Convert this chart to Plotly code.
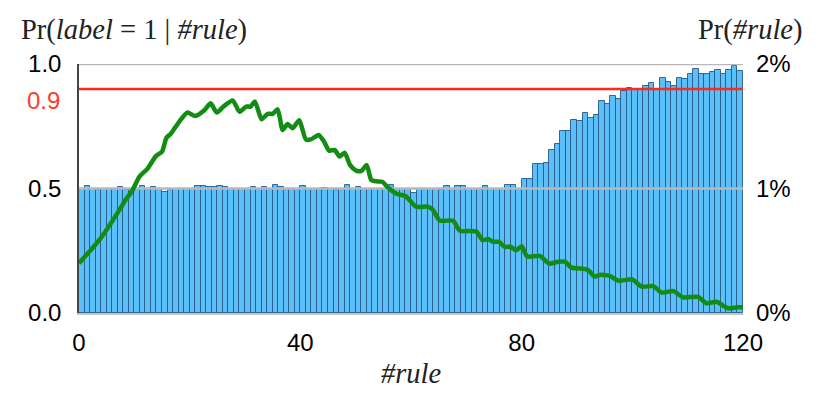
import plotly.graph_objects as go

# Pr(#rule) per bin, in percent (bins 0..119)
rule_pct = [
    1.00, 1.02, 1.00, 0.985, 1.00, 1.00, 1.00, 1.015, 0.99, 0.99,
    1.00, 1.02, 1.00, 1.015, 1.00, 0.975, 0.985, 1.00, 1.00, 1.00,
    0.995, 1.02, 1.02, 1.01, 1.01, 1.02, 1.01, 1.00, 1.00, 0.995,
    1.00, 1.01, 1.00, 1.01, 1.00, 1.025, 1.01, 1.00, 1.00, 1.00,
    1.02, 1.00, 1.00, 1.00, 1.005, 1.00, 0.99, 1.00, 1.025, 1.00,
    1.015, 1.00, 1.00, 1.00, 1.00, 1.00, 1.03, 1.00, 1.00, 1.00,
    0.96, 1.00, 1.00, 1.00, 1.00, 0.985, 1.02, 1.00, 1.02, 1.02,
    1.00, 0.995, 1.00, 1.02, 1.00, 1.00, 1.00, 1.025, 1.025, 1.00,
    1.08, 1.08, 1.197, 1.20, 1.205, 1.31, 1.357, 1.46, 1.46, 1.55,
    1.54, 1.61, 1.57, 1.59, 1.70, 1.68, 1.74, 1.72, 1.78, 1.81,
    1.80, 1.80, 1.82, 1.845, 1.80, 1.885, 1.853, 1.826, 1.885, 1.877,
    1.92, 1.96, 1.92, 1.92, 1.933, 1.95, 1.92, 1.95, 1.98, 1.94,
]
rule_bins = [i + 0.5 for i in range(len(rule_pct))]

# Pr(label = 1 | #rule)
label_x = [
    0, 3.9, 7.2, 8.4, 9.6, 10.9, 12.4, 13.9, 15.0, 15.8,
    16.6, 18.1, 19.6, 21.0, 22.6, 23.8, 24.9, 26.1, 27.8, 29.0,
    30.2, 31.0, 31.8, 33.0, 34.1, 35.0, 35.9, 36.8, 37.7, 38.6,
    39.8, 41.0, 41.9, 43.3, 44.3, 45.2, 46.2, 47.1, 48.0, 49.0,
    50.1, 51.0, 52.0, 52.8, 53.7, 54.8, 55.8, 57.3, 59.1, 60.9,
    63.0, 63.9, 65.2, 67.6, 68.8, 71.8, 72.9, 73.9, 74.8, 75.9,
    76.9, 78.0, 79.0, 80.0, 81.0, 83.3, 85.0, 86.6, 87.8, 89.0,
    90.5, 92.0, 93.2, 94.1, 95.9, 97.4, 98.9, 100.0, 101.7, 103.8,
    105.3, 107.4, 109.2, 111.9, 113.4, 115.2, 117.3, 118.9, 120.0,
]
label_p = [
    0.20, 0.30, 0.41, 0.454, 0.49, 0.547, 0.58, 0.63, 0.648, 0.704,
    0.72, 0.768, 0.805, 0.791, 0.813, 0.842, 0.805, 0.829, 0.853, 0.808,
    0.829, 0.829, 0.849, 0.778, 0.80, 0.80, 0.818, 0.735, 0.759, 0.742,
    0.774, 0.697, 0.697, 0.715, 0.688, 0.652, 0.655, 0.628, 0.644, 0.594,
    0.572, 0.57, 0.594, 0.535, 0.529, 0.527, 0.505, 0.48, 0.468, 0.427,
    0.427, 0.416, 0.371, 0.371, 0.331, 0.327, 0.293, 0.297, 0.286, 0.286,
    0.266, 0.266, 0.252, 0.268, 0.227, 0.229, 0.198, 0.206, 0.206, 0.182,
    0.179, 0.173, 0.146, 0.153, 0.149, 0.13, 0.133, 0.135, 0.106, 0.108,
    0.082, 0.088, 0.063, 0.065, 0.039, 0.045, 0.019, 0.023, 0.023,
]
assert len(label_x) == len(label_p)

x_span = [0, 120]
threshold = 0.9
ref_levels = [0.5, 1.0]

x_ticks = [0, 40, 80, 120]
left_ticks = [0, 0.5, 1.0]
left_text = ["0.0", "0.5", "1.0"]
right_ticks = [0, 1, 2]
right_text = ["0%", "1%", "2%"]

SANS = "Liberation Sans"
SERIF = "Liberation Serif"

fig = go.Figure()

# bars on primary axis (drawn underneath the overlay axis)
fig.add_trace(go.Bar(
    x=rule_bins, y=rule_pct, width=1,
    marker=dict(color="#5bbff9", line=dict(color="rgba(40,90,135,0.9)", width=1)),
    yaxis="y", showlegend=False, hoverinfo="skip",
))

for lvl in ref_levels:
    fig.add_trace(go.Scatter(
        x=x_span, y=[lvl, lvl], mode="lines", yaxis="y2",
        line=dict(color="#b8b8b8", width=2.5), showlegend=False, hoverinfo="skip",
    ))

fig.add_trace(go.Scatter(
    x=x_span, y=[threshold, threshold], mode="lines", yaxis="y2",
    line=dict(color="#ff2a1a", width=2.5), showlegend=False, hoverinfo="skip",
))

fig.add_trace(go.Scatter(
    x=label_x, y=label_p, mode="lines", yaxis="y2",
    line=dict(color="#128c12", width=4.5, shape="spline", smoothing=0.6),
    showlegend=False,
))

# page body has an 8px margin, so the figure is sized 8px smaller
fig.update_layout(
    width=822, height=391,
    margin=dict(l=71, r=87, t=56, b=86),
    paper_bgcolor="white", plot_bgcolor="white",
    bargap=0,
    xaxis=dict(
        range=x_span, tickvals=x_ticks, showgrid=False, zeroline=False,
        showline=True, linecolor="#c4c4c4", linewidth=2,
        ticks="", ticklabelstandoff=7,
        tickfont=dict(family=SANS, size=24, color="black"),
    ),
    yaxis=dict(
        range=[0, 2], side="right", tickvals=right_ticks, ticktext=right_text,
        showgrid=False, zeroline=False, showline=False, ticks="",
        ticklabelstandoff=12,
        tickfont=dict(family=SANS, size=24, color="black"),
    ),
    yaxis2=dict(
        range=[0, 1], overlaying="y", side="left",
        tickvals=left_ticks, ticktext=left_text,
        showgrid=False, zeroline=False,
        showline=True, linecolor="#444444", linewidth=1.5,
        ticks="", ticklabelstandoff=11,
        tickfont=dict(family=SANS, size=24, color="black"),
    ),
    annotations=[
        dict(text="Pr(<i>label</i> = 1 | <i>#rule</i>)", xref="paper", yref="paper",
             x=-0.09, y=1.135, xanchor="left", yanchor="middle", showarrow=False,
             font=dict(family=SERIF, size=28.5, color="#222")),
        dict(text="Pr(<i>#rule</i>)", xref="paper", yref="paper",
             x=1.093, y=1.135, xanchor="right", yanchor="middle", showarrow=False,
             font=dict(family=SERIF, size=28.5, color="#222")),
        dict(text="0.9", xref="paper", yref="y2", x=-0.025, y=threshold,
             xanchor="right", yanchor="middle", yshift=-12, showarrow=False,
             font=dict(family=SANS, size=24, color="#ff3b2f")),
        dict(text="<i>#rule</i>", xref="paper", yref="paper",
             x=0.5, y=-0.243, xanchor="center", yanchor="middle", showarrow=False,
             font=dict(family=SERIF, size=28.5, color="#222")),
    ],
)

fig.write_html("out.html")
